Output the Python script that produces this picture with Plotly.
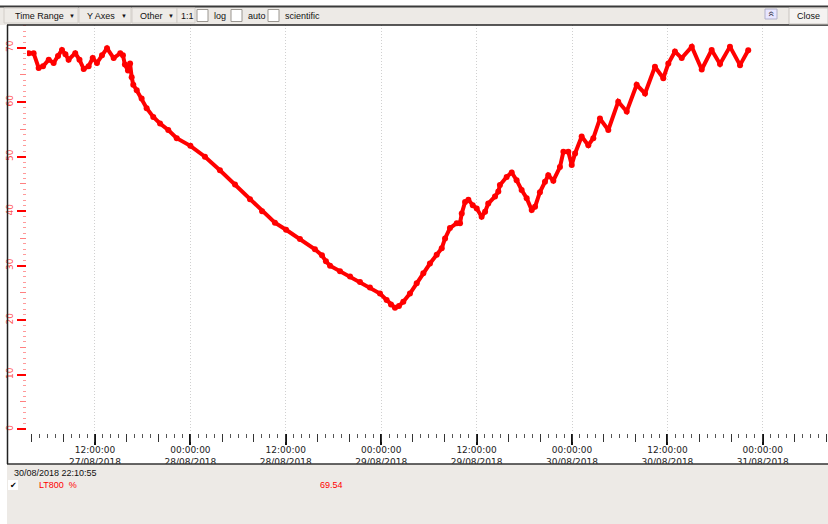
import plotly.graph_objects as go
import pandas as pd

# ---------------- data ----------------
times = [
    "2018-08-27 03:40", "2018-08-27 04:17", "2018-08-27 04:55", "2018-08-27 05:28",
    "2018-08-27 06:11", "2018-08-27 06:48", "2018-08-27 07:21", "2018-08-27 07:51",
    "2018-08-27 08:17", "2018-08-27 08:41", "2018-08-27 09:31", "2018-08-27 10:03",
    "2018-08-27 10:35", "2018-08-27 11:12", "2018-08-27 11:43", "2018-08-27 12:15",
    "2018-08-27 12:53", "2018-08-27 13:31", "2018-08-27 14:21", "2018-08-27 15:11",
    "2018-08-27 15:31", "2018-08-27 15:46", "2018-08-27 16:09", "2018-08-27 16:25",
    "2018-08-27 16:37", "2018-08-27 16:49", "2018-08-27 17:15", "2018-08-27 17:52",
    "2018-08-27 18:30", "2018-08-27 19:20", "2018-08-27 20:11", "2018-08-27 21:13",
    "2018-08-27 22:17",
    "2018-08-28 00:00", "2018-08-28 01:50", "2018-08-28 03:43", "2018-08-28 05:37",
    "2018-08-28 07:30", "2018-08-28 09:01", "2018-08-28 10:38", "2018-08-28 12:02",
    "2018-08-28 13:47", "2018-08-28 15:40", "2018-08-28 16:33", "2018-08-28 17:03",
    "2018-08-28 17:34", "2018-08-28 18:49", "2018-08-28 20:05", "2018-08-28 21:20",
    "2018-08-28 22:35", "2018-08-28 23:51",
    "2018-08-29 00:41", "2018-08-29 01:14", "2018-08-29 01:44", "2018-08-29 02:14",
    "2018-08-29 02:47", "2018-08-29 03:37", "2018-08-29 04:28", "2018-08-29 05:18",
    "2018-08-29 06:08", "2018-08-29 06:59", "2018-08-29 07:37", "2018-08-29 08:02",
    "2018-08-29 08:39", "2018-08-29 09:30", "2018-08-29 09:55", "2018-08-29 10:08",
    "2018-08-29 10:33", "2018-08-29 10:58", "2018-08-29 11:31", "2018-08-29 12:01",
    "2018-08-29 12:38", "2018-08-29 13:04", "2018-08-29 13:28", "2018-08-29 14:19",
    "2018-08-29 14:44", "2018-08-29 14:56", "2018-08-29 15:47", "2018-08-29 16:25",
    "2018-08-29 17:02", "2018-08-29 17:40", "2018-08-29 18:18", "2018-08-29 18:56",
    "2018-08-29 19:21", "2018-08-29 19:58", "2018-08-29 20:36", "2018-08-29 21:01",
    "2018-08-29 21:39", "2018-08-29 22:29", "2018-08-29 22:55", "2018-08-29 23:32",
    "2018-08-29 23:58",
    "2018-08-30 00:23", "2018-08-30 01:13", "2018-08-30 02:03", "2018-08-30 02:41",
    "2018-08-30 03:31", "2018-08-30 04:34", "2018-08-30 05:49", "2018-08-30 06:53",
    "2018-08-30 08:08", "2018-08-30 09:11", "2018-08-30 10:26", "2018-08-30 11:29",
    "2018-08-30 12:07", "2018-08-30 12:57", "2018-08-30 13:48", "2018-08-30 15:04",
    "2018-08-30 16:19", "2018-08-30 17:34", "2018-08-30 18:37", "2018-08-30 19:52",
    "2018-08-30 21:08", "2018-08-30 22:10",
]
lt800 = [
    69.0, 69.0, 66.3, 66.6,
    67.8, 67.2, 68.5, 69.6,
    68.8, 67.8, 69.0, 67.8,
    66.1, 66.6, 68.1, 67.2,
    68.6, 69.9, 68.1, 69.0,
    68.6, 66.9, 65.8, 67.1,
    64.6, 63.2, 62.2, 60.7,
    58.9, 57.3, 56.1, 54.9,
    53.4,
    52.0, 50.0, 47.5, 44.9,
    42.2, 40.0, 37.9, 36.6,
    34.9, 33.0, 31.9, 30.8,
    30.0, 29.0, 28.0, 27.0,
    26.0, 24.9,
    23.7, 22.9, 22.3, 22.6,
    23.4, 24.9, 26.8, 28.6,
    30.4, 32.0, 33.2, 35.0,
    36.9, 37.8, 37.8, 39.6,
    41.7, 42.1, 41.1, 40.5,
    39.0, 39.9, 41.4, 42.7,
    43.6, 44.8, 46.3, 47.1,
    45.7, 43.9, 42.4, 40.2,
    40.8, 43.5, 45.4, 46.6,
    45.6, 48.1, 50.9, 50.9,
    48.5,
    50.6, 53.7, 52.1, 53.4,
    57.0, 54.9, 60.1, 58.3,
    63.2, 61.6, 66.5, 64.4,
    67.1, 69.3, 68.1, 70.2,
    66.0, 69.6, 67.0, 70.2,
    66.8, 69.54,
]
y_ticks = [0, 10, 20, 30, 40, 50, 60, 70]
y_mid_ticks = [5, 15, 25, 35, 45, 55, 65]
cursor_time = "30/08/2018 22:10:55"
series_name = "LT800  %"
cursor_value = "69.54"

# ---------------- layout helpers ----------------
W, H = 828, 524
def fx(x):
    return x / W
def fy(y):
    return 1 - y / H

x_range = ["2018-08-27 03:27", "2018-08-31 08:12"]
y_range = [-0.7, 74.17]
mid_x_ticks = pd.date_range("2018-08-27 04:00", "2018-08-31 08:00", freq="4h")

RED = "#ff0000"
FONT = "Liberation Sans"

fig = go.Figure()
fig.add_trace(go.Scatter(
    x=times, y=lt800, mode="lines+markers",
    line=dict(color=RED, width=4),
    marker=dict(color=RED, size=6),
    showlegend=False, hoverinfo="skip",
))
fig.add_trace(go.Scatter(
    x=[times[0]], y=[lt800[0]], xaxis="x2", yaxis="y2", mode="markers",
    marker=dict(opacity=0), showlegend=False, hoverinfo="skip",
))

fig.update_layout(
    width=W, height=H, autosize=False,
    margin=dict(l=0, r=0, t=0, b=0),
    paper_bgcolor="white", plot_bgcolor="white",
    xaxis=dict(
        domain=[fx(27), 1], range=x_range, type="date",
        tick0="2018-08-27 00:00", dtick=12 * 3600000,
        tickformat="%H:%M:%S<br>%d/%m/%Y",
        ticks="outside", ticklen=11, tickwidth=2, tickcolor="#111",
        ticklabelstandoff=-3,
        tickfont=dict(family="DejaVu Sans", size=9, color="#222"),
        showgrid=True, gridcolor="#d0d0d0", griddash="1px,2px", gridwidth=1,
        showline=False, zeroline=False,
        minor=dict(dtick=3600000, ticks="outside", ticklen=4, tickcolor="#555", tickwidth=1, showgrid=False),
        anchor="y",
    ),
    xaxis2=dict(
        overlaying="x", range=x_range, type="date", side="bottom", anchor="y",
        tickvals=list(mid_x_ticks), ticks="outside", ticklen=8, tickwidth=1, tickcolor="#333",
        showticklabels=False, showgrid=False, showline=False, zeroline=False,
    ),
    yaxis=dict(
        domain=[fy(433), fy(25)], range=y_range,
        tickvals=y_ticks, ticks="outside", ticklen=9, tickwidth=2, tickcolor=RED,
        tickangle=-90, tickfont=dict(family="DejaVu Sans", size=9, color="#ff5050"),
        showgrid=False, zeroline=False, showline=False,
        minor=dict(dtick=1, ticks="outside", ticklen=3, tickcolor="#ff9a9a", tickwidth=1, showgrid=False),
        anchor="x",
    ),
    yaxis2=dict(
        overlaying="y", range=y_range, side="left", anchor="x",
        tickvals=y_mid_ticks, ticks="outside", ticklen=6, tickwidth=1, tickcolor="#ff8080",
        showticklabels=False, showgrid=False, zeroline=False, showline=False,
    ),
)

shapes = []
def rect(x0, y0, x1, y1, fill, line=None, lw=1):
    shapes.append(dict(type="rect", xref="paper", yref="paper",
                       x0=fx(x0), x1=fx(x1), y0=fy(y1), y1=fy(y0),
                       fillcolor=fill, line=dict(color=line or fill, width=lw if line else 0),
                       layer="above"))
def hline(x0, x1, y, color, w):
    shapes.append(dict(type="line", xref="paper", yref="paper",
                       x0=fx(x0), x1=fx(x1), y0=fy(y), y1=fy(y),
                       line=dict(color=color, width=w), layer="above"))
def vline(x, y0, y1, color, w):
    shapes.append(dict(type="line", xref="paper", yref="paper",
                       x0=fx(x), x1=fx(x), y0=fy(y0), y1=fy(y1),
                       line=dict(color=color, width=w), layer="above"))

# toolbar
rect(0, 7, 828, 25, "#edeae6")
hline(0, 828, 6.5, "#3a3a3a", 2)
hline(7, 828, 25, "#222", 1.5)
# buttons
for (a, b) in [(4, 78), (79, 131), (132, 177)]:
    rect(a, 8, b, 23, "#eeebe7", "#d2cec9", 1)
rect(177, 8, 195, 23, "#eeebe7", "#d2cec9", 1)
for a in [197, 231, 268]:
    rect(a, 9.5, a + 11, 21.5, "white", "#9a9690", 1)
rect(789, 8, 828, 24, "#f5f3f1", "#c9c5c0", 1)
rect(765, 9, 777, 19, "#e8e6ff", "#b0b0c8", 1)
# bottom panel
rect(7, 464, 828, 524, "#edeae6")
hline(7, 828, 464, "#333", 1.5)
vline(7.5, 25, 464, "#222", 1.5)
rect(8, 480, 18, 490, "white")

fig.update_layout(shapes=shapes)

ann = []
def text(x, y, s, size=9, color="#111", anchor="left", family=FONT, angle=0):
    ann.append(dict(x=fx(x), y=fy(y), xref="paper", yref="paper", text=s, showarrow=False,
                    xanchor=anchor, yanchor="middle", textangle=angle,
                    font=dict(family=family, size=size, color=color)))

text(13, 16, "Time Range")
text(72, 16, "▼", size=6, anchor="center")
text(85, 16, "Y Axes")
text(124, 16, "▼", size=6, anchor="center")
text(138, 16, "Other")
text(171, 16, "▼", size=6, anchor="center")
text(179, 16, "1:1")
text(212, 16, "log")
text(246, 16, "auto")
text(283, 16, "scientific")
text(771, 14, "«", size=10, color="#334", anchor="center", angle=90)
text(808, 16.5, "Close", anchor="center")

text(12, 473, cursor_time)
text(13, 485, "✔", size=8, color="#000", anchor="center", family="DejaVu Sans")
text(37, 485, series_name, color=RED)
text(318, 485, cursor_value, color=RED)

fig.update_layout(annotations=ann)

fig.write_html("out.html", config={"displayModeBar": False},
               post_script="document.body.style.margin='0';document.body.style.overflow='hidden';")
